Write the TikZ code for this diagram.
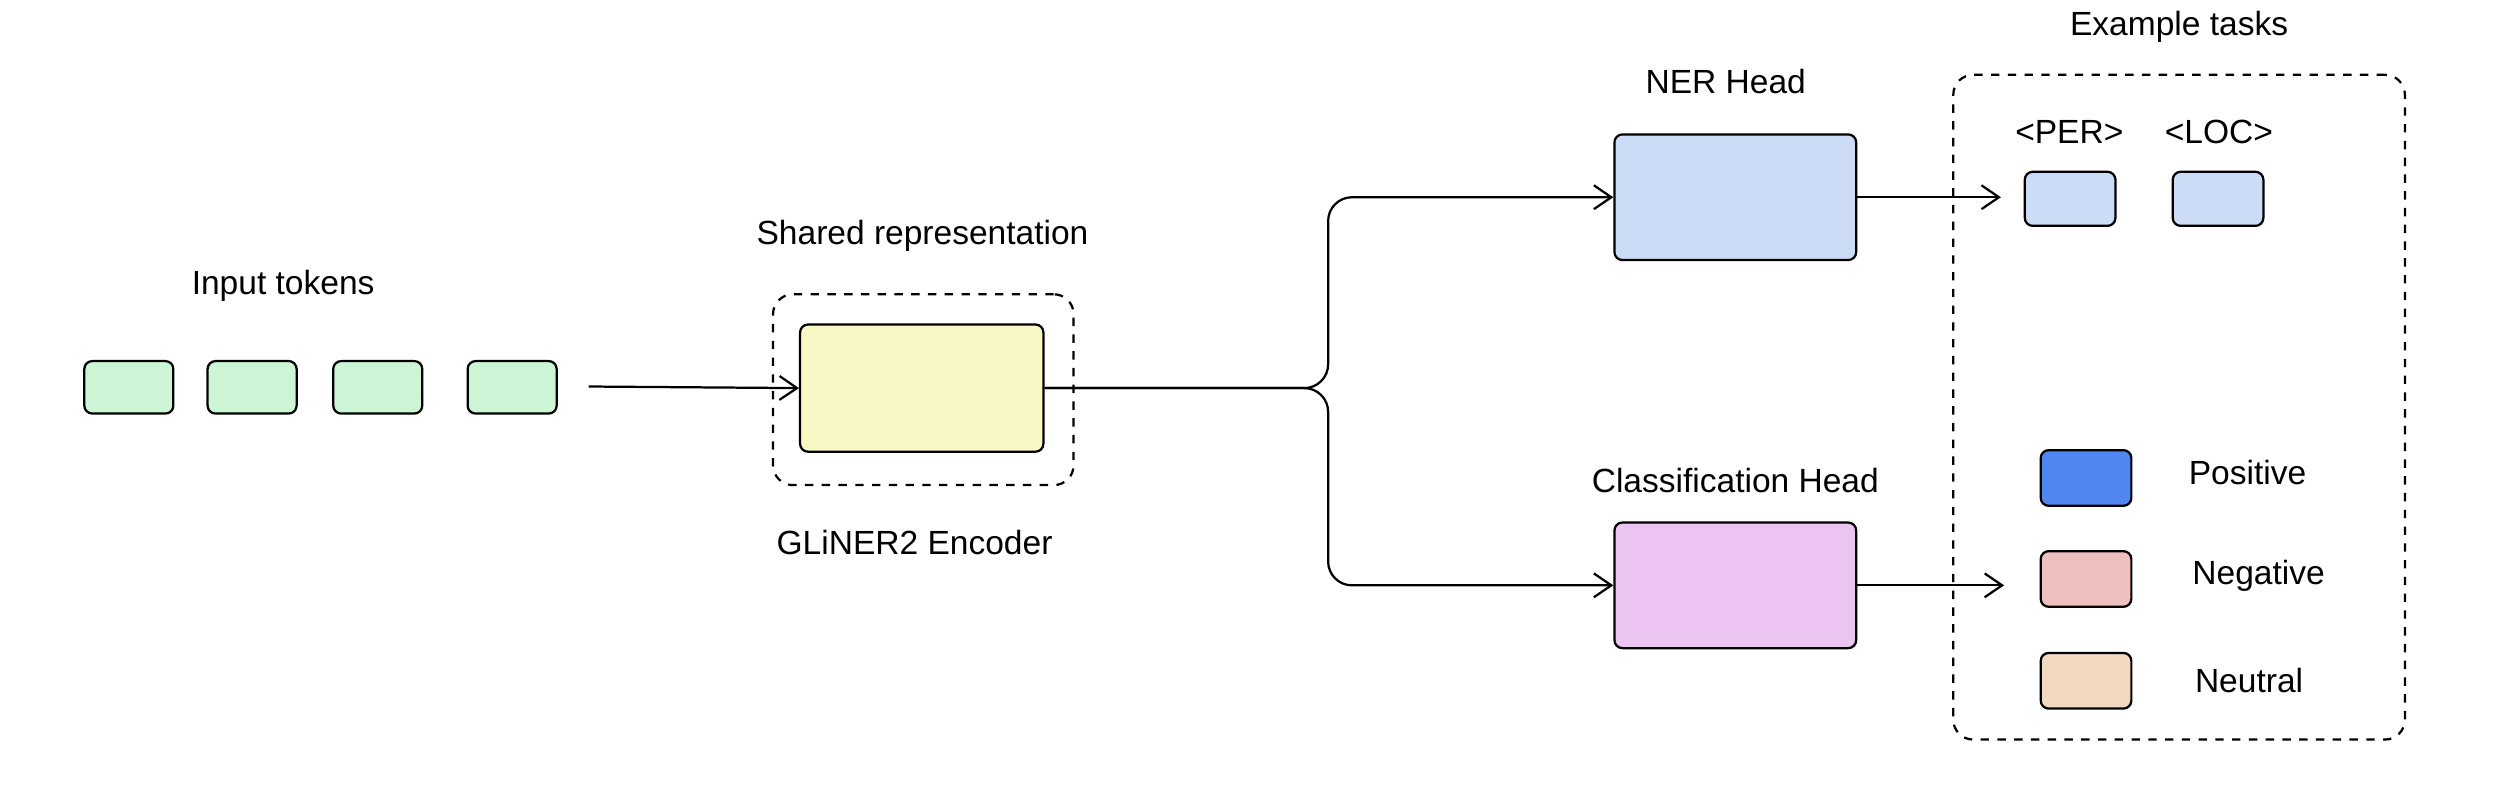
\documentclass[tikz,border=0pt]{standalone}
\usepackage{fontspec}
\setmainfont{Liberation Sans}
\usetikzlibrary{arrows.meta}
\begin{document}
\begin{tikzpicture}[x=0.02cm,y=-0.02cm,line width=0.8pt]
\tikzset{
  box/.style={draw, rounded corners=0.1cm, inner sep=0pt},
  token/.style={box, fill=green!20!white, minimum width=1.12cm, minimum height=0.66cm},
  small/.style={box, minimum width=1.14cm, minimum height=0.68cm},
  head/.style={box, minimum width=3.04cm, minimum height=1.58cm},
  frame/.style={draw, dashed, rounded corners=0.25cm, inner sep=0pt},
  lbl/.style={font=\large},
  arr/.style={-{Straight Barb[length=2.2mm,width=3mm]}}
}
\definecolor{tokgreen}{HTML}{CCF5D6}
\definecolor{encyel}{HTML}{F8F8C4}
\definecolor{nerblue}{HTML}{CCDCF7}
\definecolor{clspurple}{HTML}{EBC4F2}
\definecolor{posblue}{HTML}{4F86F0}
\definecolor{negpink}{HTML}{F0C0C0}
\definecolor{neupeach}{HTML}{F3D8C0}
\useasboundingbox (0,0) rectangle (1568,494);
% input tokens
\node[lbl] (inlbl) at (178,180) {Input tokens};
\foreach \i/\x in {1/81,2/158.5,3/237.5,4/322}
  \node[token, fill=tokgreen] (t\i) at (\x,243.5) {};
\coordinate (instart) at (370,243);
% encoder
\node[frame, minimum width=3.78cm, minimum height=2.4cm] (encframe) at (580.5,245) {};
\node[box, fill=encyel, minimum width=3.06cm, minimum height=1.6cm] (enc) at (579.5,244) {};
\node[lbl] (sharedlbl) at (580,148) {Shared representation};
\node[lbl] (enclbl) at (575,341) {GLiNER2 Encoder};
\draw[arr] (instart) -- (enc.west);
% heads
\node[head, fill=nerblue] (ner) at (1091,124) {};
\node[lbl] (nerlbl) at (1085,51) {NER Head};
\node[head, fill=clspurple] (cls) at (1091,368) {};
\node[lbl] (clslbl) at (1091,302) {Classification Head};
\draw[arr, rounded corners=0.3cm] (enc.east) -| (835,124) -- (ner.west);
\draw[arr, rounded corners=0.3cm] (enc.east) -| (835,368) -- (cls.west);
% example tasks
\node[frame, minimum width=5.68cm, minimum height=8.36cm] (tasks) at (1370,256) {};
\node[lbl] (taskslbl) at (1370,17) {Example tasks};
\node[small, fill=nerblue] (per) at (1301.5,125) {};
\node[small, fill=nerblue] (loc) at (1394.5,125) {};
\node[lbl] at (1301,83) {<PER>};
\node[lbl] at (1395,83) {<LOC>};
\coordinate (nerend) at (1258,124);
\draw[arr] (ner.east) -- (nerend);
\coordinate (clsend) at (1260,368);
\draw[arr] (cls.east) -- (clsend);
% legend
\node[small, fill=posblue, minimum height=0.7cm] (pos) at (1311.5,300.5) {};
\node[small, fill=negpink, minimum height=0.7cm] (neg) at (1311.5,364) {};
\node[small, fill=neupeach, minimum height=0.7cm] (neu) at (1311.5,428) {};
\node[lbl] at (1413,297) {Positive};
\node[lbl] at (1420,362) {Negative};
\node[lbl] at (1414,428) {Neutral};
\end{tikzpicture}
\end{document}
